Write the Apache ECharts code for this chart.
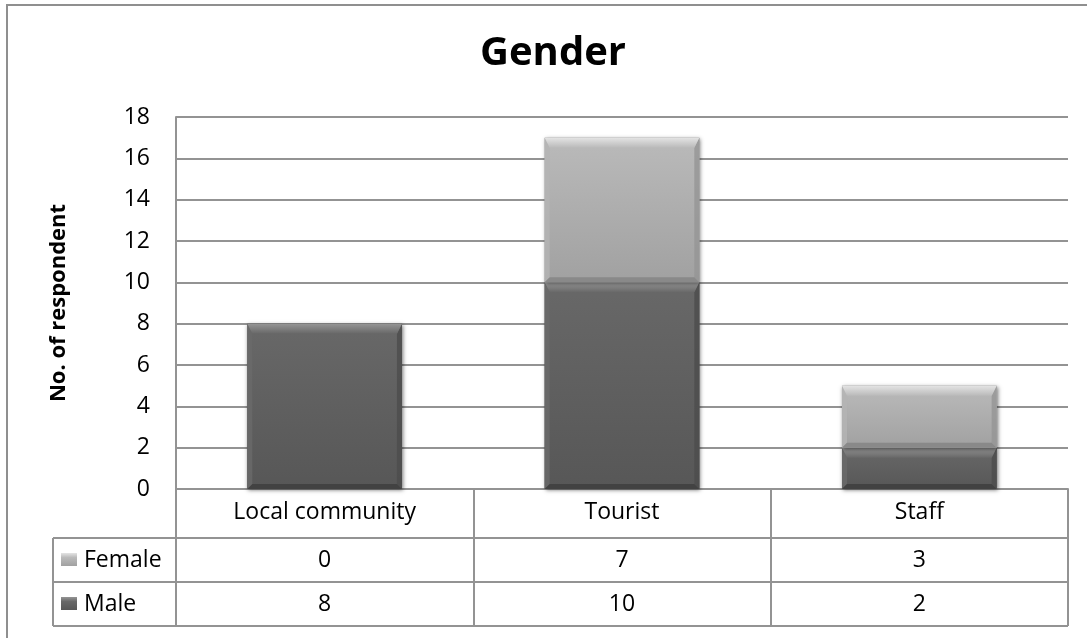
<!DOCTYPE html>
<html>
<head>
<meta charset="utf-8">
<script src="https://cdn.jsdelivr.net/npm/echarts@6/dist/echarts.min.js"></script>
<style>
html,body{margin:0;padding:0;background:#fff;}
#c{width:1087px;height:638px;}
</style>
</head>
<body>
<div id="c"></div>
<script>
const title = 'Gender';
const yAxisTitle = 'No. of respondent';
const categories = ['Local community', 'Tourist', 'Staff'];
const seriesNames = ['Female', 'Male'];
const female = [0, 7, 3];
const male = [8, 10, 2];
const yMin = 0, yMax = 18, yStep = 2;

const FONT = '"Open Sans", sans-serif';
const LINE = '#939393';

const palette = {
  Female: {top: '#bababa', bottom: '#a1a1a1', bevTop: '#e4e4e4', left: '#b4b4b4', right: '#959595', bevBottom: '#858585'},
  Male:   {top: '#686868', bottom: '#575757', bevTop: '#959595', left: '#6a6a6a', right: '#4c4c4c', bevBottom: '#3e3e3e'}
};

function bevelRender(name) {
  const c = palette[name];
  return function (params, api) {
    const i = api.value(0);
    const base = api.value(2);
    const val = api.value(1);
    if (!val) return null;
    const p0 = api.coord([i, base]);
    const p1 = api.coord([i, base + val]);
    const w = api.size([1, 0])[0] * 0.52;
    const x0 = p0[0] - w / 2, x1 = p0[0] + w / 2;
    const yT = p1[1], yB = p0[1];
    const h = yB - yT;
    const bt = Math.min(10, h / 3), bs = 5, bb = Math.min(5, h / 4);
    const grad = (a, b) => new echarts.graphic.LinearGradient(0, 0, 0, 1, [{offset: 0, color: a}, {offset: 1, color: b}]);
    return {
      type: 'group',
      children: [
        {type: 'rect', shape: {x: x0, y: yT, width: w, height: h},
         style: {fill: c.bottom, shadowBlur: 4, shadowColor: 'rgba(0,0,0,0.55)', shadowOffsetX: 1, shadowOffsetY: 1}},
        {type: 'rect', shape: {x: x0, y: yT, width: w, height: h}, style: {fill: grad(c.top, c.bottom)}},
        {type: 'polygon', shape: {points: [[x0, yT], [x0 + bs, yT + bt], [x0 + bs, yB - bb], [x0, yB]]}, style: {fill: c.left, opacity: 0.8}},
        {type: 'polygon', shape: {points: [[x1, yT], [x1 - bs, yT + bt], [x1 - bs, yB - bb], [x1, yB]]}, style: {fill: c.right, opacity: 0.8}},
        {type: 'polygon', shape: {points: [[x0, yB], [x1, yB], [x1 - bs, yB - bb], [x0 + bs, yB - bb]]}, style: {fill: c.bevBottom, opacity: 0.85}},
        {type: 'polygon', shape: {points: [[x0, yT], [x1, yT], [x1 - bs, yT + bt], [x0 + bs, yT + bt]]}, style: {fill: grad(c.bevTop, c.top)}}
      ]
    };
  };
}

const maleData = categories.map((c, i) => [i, male[i], 0]);
const femaleData = categories.map((c, i) => [i, female[i], male[i]]);

const chart = echarts.init(document.getElementById('c'), null, {renderer: 'canvas'});
chart.setOption({
  animation: false,
  backgroundColor: '#fff',
  grid: {left: 176, right: 19, top: 117, bottom: 149, containLabel: false},
  xAxis: {
    type: 'category', data: categories, boundaryGap: true,
    axisLine: {show: true, lineStyle: {color: LINE, width: 2}},
    axisTick: {show: true, length: 137, lineStyle: {color: LINE, width: 2}},
    axisLabel: {margin: 12, color: '#000', fontFamily: FONT, fontSize: 23},
    splitLine: {show: false}
  },
  yAxis: {
    type: 'value', min: yMin, max: yMax, interval: yStep,
    name: yAxisTitle, nameLocation: 'middle', nameRotate: 90, nameGap: 106,
    nameTextStyle: {color: '#000', fontFamily: FONT, fontSize: 22, fontWeight: 'bold'},
    axisLine: {show: true, lineStyle: {color: LINE, width: 2}},
    axisTick: {show: false},
    axisLabel: {margin: 26, color: '#000', fontFamily: FONT, fontSize: 23},
    splitLine: {show: true, lineStyle: {color: LINE, width: 2}}
  },
  series: [
    {name: 'Male', type: 'custom', renderItem: bevelRender('Male'), data: maleData, encode: {x: 0, y: 1}, z: 3},
    {name: 'Female', type: 'custom', renderItem: bevelRender('Female'), data: femaleData, encode: {x: 0, y: [1, 2]}, z: 3}
  ]
});

// table below the axis
const xc = categories.map((c, i) => chart.convertToPixel({xAxisIndex: 0}, i));
const y0 = chart.convertToPixel({yAxisIndex: 0}, 0);
const xLeft = 176, xRight = 1068, xHead = 53;
const rowTops = [y0 + 49, y0 + 93];
const rowBottom = y0 + 137;
const rowVals = {Female: female, Male: male};
const g = [];
g.push({type: 'rect', shape: {x: 7, y: 5, width: 1100, height: 660}, style: {fill: 'none', stroke: '#8f8f8f', lineWidth: 2}, z: 0, silent: true});
g.push({type: 'text', x: 553, y: 54, style: {text: title, font: 'bold 40px ' + FONT, fill: '#000', align: 'center', verticalAlign: 'middle'}});
[rowTops[0], rowTops[1], rowBottom].forEach(y => {
  g.push({type: 'line', shape: {x1: xHead, y1: y, x2: xRight, y2: y}, style: {stroke: LINE, lineWidth: 2}});
});
g.push({type: 'line', shape: {x1: xHead, y1: rowTops[0], x2: xHead, y2: rowBottom}, style: {stroke: LINE, lineWidth: 2}});
seriesNames.forEach((s, r) => {
  const cy = (rowTops[r] + (r === 0 ? rowTops[1] : rowBottom)) / 2;
  const c = palette[s];
  g.push({type: 'rect', shape: {x: 61, y: cy - 7, width: 16, height: 13},
    style: {fill: new echarts.graphic.LinearGradient(0, 0, 0, 1, [{offset: 0, color: c.bevTop}, {offset: 0.35, color: c.top}, {offset: 1, color: c.bottom}])}});
  g.push({type: 'text', x: 84, y: cy, style: {text: s, font: '23px ' + FONT, fill: '#000', align: 'left', verticalAlign: 'middle'}});
  categories.forEach((cat, i) => {
    g.push({type: 'text', x: xc[i], y: cy, style: {text: String(rowVals[s][i]), font: '23px ' + FONT, fill: '#000', align: 'center', verticalAlign: 'middle'}});
  });
});
chart.setOption({graphic: g});
</script>
</body>
</html>
